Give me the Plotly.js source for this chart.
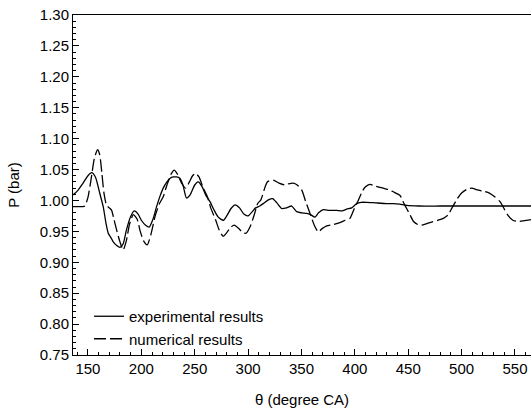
<!DOCTYPE html>
<html>
<head>
<meta charset="utf-8">
<script src="https://cdn.plot.ly/plotly-3.0.1.min.js"></script>
<style>html,body{margin:0;padding:0;background:#fff;}#chart{width:531px;height:418px;}</style>
</head>
<body>
<div id="chart"></div>
<script>
const expTheta = [136,140,145,150,153.5,157,161,164.3,167,169,171.5,173.7,177,180,183,186,190,193.4,197,200,204,207.4,211,214.3,217.5,220.5,224,227,230,233,236,239,242.3,246,250,253.3,257,260.5,264.3,268,272,276.8,280,284,287.8,292,296,300,304,307,311,315,319,323,327,331.4,336,340.8,345.5,350,354.9,358.5,362.6,366,370.5,376,383,388,392.4,397,401.7,406,411,420,430,436,442,448.5,460,480,500,520,540,565];
const expP = [1.009,1.015,1.027,1.040,1.045,1.038,1.012,0.990,0.962,0.947,0.940,0.933,0.927,0.924,0.930,0.952,0.974,0.983,0.978,0.968,0.960,0.957,0.970,0.990,1.007,1.020,1.030,1.036,1.038,1.038,1.036,1.025,1.004,1.010,1.025,1.030,1.022,1.008,0.998,0.985,0.973,0.968,0.975,0.987,0.993,0.988,0.978,0.975,0.982,0.988,0.991,0.996,1.001,1.003,0.996,0.987,0.988,0.991,0.982,0.980,0.979,0.977,0.973,0.980,0.985,0.984,0.984,0.983,0.986,0.988,0.995,0.997,0.997,0.996,0.995,0.995,0.994,0.992,0.991,0.991,0.991,0.991,0.991,0.991];

const numTheta = [136,140,145,147,150,153,156,159,161,163,165,167.5,170,172.2,174,176.9,180,183,186,189,192.5,196,199,202,205.5,209,213,217,220.5,224,228,230.8,234,238,241.5,245,248,250.9,254,258,261.9,265,269.7,273,276.6,280,284,287,291,295,298,302,306,309,312,315,318,323.6,329,334.5,338,342.4,346,350.2,354,358,362,365.8,369,373.6,380,386,391,395.4,399,403.2,407,410,414,418,423.6,428,432.9,436,442.3,446,451.6,455,459,462.6,468,473.5,478,482.9,487.5,491,495.3,500,505,509.4,515,520,526,531,536,540,543.8,548,553.1,558,565];
const numP = [0.990,0.990,0.990,0.991,1.005,1.035,1.068,1.082,1.074,1.045,1.012,0.992,0.988,0.984,0.972,0.952,0.933,0.920,0.935,0.962,0.977,0.970,0.950,0.935,0.928,0.945,0.975,0.995,1.006,1.025,1.043,1.049,1.042,1.027,1.020,1.030,1.040,1.044,1.038,1.020,1.006,0.988,0.968,0.952,0.942,0.948,0.957,0.960,0.955,0.948,0.947,0.958,0.978,0.995,1.001,1.017,1.030,1.033,1.028,1.025,1.027,1.028,1.025,1.017,0.998,0.979,0.960,0.949,0.954,0.959,0.961,0.964,0.968,0.971,0.985,1.000,1.015,1.022,1.026,1.024,1.021,1.019,1.017,1.014,1.008,0.995,0.977,0.966,0.961,0.960,0.963,0.966,0.968,0.971,0.977,0.988,1.001,1.012,1.018,1.020,1.017,1.015,1.012,1.006,0.998,0.986,0.975,0.968,0.966,0.967,0.969];

const xTicks = [150,200,250,300,350,400,450,500,550];
const yTicks = [0.75,0.80,0.85,0.90,0.95,1.00,1.05,1.10,1.15,1.20,1.25,1.30];
const seriesNames = ['experimental results','numerical results'];

const font = {family:'"Liberation Sans", Arial, sans-serif', size:15, color:'#000'};

const traces = [
  {x: expTheta, y: expP, name: seriesNames[0], mode:'lines', line:{color:'#000', width:1.3, shape:'spline', smoothing:0.6}},
  {x: numTheta, y: numP, name: seriesNames[1], mode:'lines', line:{color:'#000', width:1.3, dash:'12px,4px', shape:'spline', smoothing:0.6}}
];

const layout = {
  width:531, height:418,
  margin:{l:73, r:0, t:15, b:63},
  paper_bgcolor:'#fff', plot_bgcolor:'#fff',
  font: font,
  showlegend:true,
  legend:{x:0.035, y:0.0, xanchor:'left', yanchor:'bottom', bgcolor:'rgba(0,0,0,0)', font:font, tracegroupgap:0},
  xaxis:{
    range:[136,565], showgrid:false, zeroline:false,
    showline:true, linecolor:'#000', linewidth:1, mirror:true,
    ticks:'inside', ticklen:6, tickcolor:'#000',
    tickvals:xTicks, ticktext:xTicks.map(String),
    minor:{dtick:10, tick0:0, ticks:'inside', ticklen:3, tickcolor:'#000', showgrid:false},
    title:{text:'θ (degree CA)', font:font, standoff:18},
    tickfont:font
  },
  yaxis:{
    range:[0.75,1.30], showgrid:false, zeroline:false,
    showline:true, linecolor:'#000', linewidth:1, mirror:false,
    ticks:'inside', ticklen:6, tickcolor:'#000',
    tickvals:yTicks, ticktext:yTicks.map(v=>v.toFixed(2)),
    minor:{dtick:0.01, tick0:0, ticks:'inside', ticklen:3, tickcolor:'#000', showgrid:false},
    title:{text:'P (bar)', font:font, standoff:16},
    tickfont:font
  }
};

Plotly.newPlot('chart', traces, layout, {displayModeBar:false, staticPlot:true});
</script>
</body>
</html>
